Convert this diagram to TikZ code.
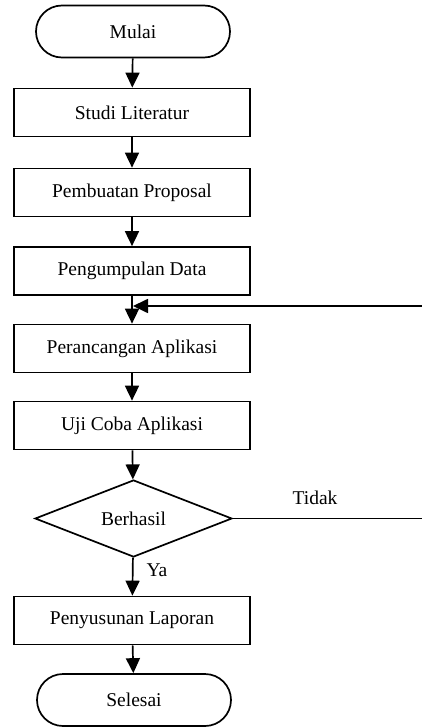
\documentclass[tikz,border=0pt]{standalone}
\usepackage{fontspec}
\setmainfont{Liberation Serif}
\usetikzlibrary{shapes.geometric,arrows.meta}
\begin{document}
\begin{tikzpicture}[x=1pt,y=-1pt,
  font=\fontsize{19.5}{23}\selectfont,
  lw/.style={line width=1.7pt},
  procbox/.style={lw,draw,rectangle,minimum width=236pt,minimum height=48pt,inner sep=0pt},
  termbox/.style={lw,draw,rectangle,rounded corners=26pt,minimum width=194pt,minimum height=52pt,inner sep=0pt},
  decbox/.style={lw,draw,diamond,aspect=2.56,minimum width=197pt,minimum height=77pt,inner sep=0pt},
  arr/.style={lw,-{Triangle[length=15pt,width=14pt]}},
  lbl/.style={inner sep=0pt}
]
\useasboundingbox (0,0) rectangle (422,727);
\node[termbox] (mulai) at (133,31.5) {Mulai};
\node[procbox] (studi) at (132,112.5) {Studi Literatur};
\node[procbox] (prop) at (132,192.5) {Pembuatan Proposal};
\node[procbox] (data) at (132,271) {Pengumpulan Data};
\node[procbox] (ranc) at (132,348.5) {Perancangan Aplikasi};
\node[procbox] (uji) at (132,425.5) {Uji Coba Aplikasi};
\node[decbox] (dec) at (133.5,518.5) {Berhasil};
\node[procbox] (lap) at (132,620.5) {Penyusunan Laporan};
\node[termbox] (sel) at (134,700) {Selesai};
\coordinate (fb) at (133,306);
\coordinate (r1) at (426,518.5);
\coordinate (r2) at (426,306);
\draw[arr] (mulai) -- (studi);
\draw[arr] (studi) -- (prop);
\draw[arr] (prop) -- (data);
\draw[arr] (data) -- (ranc);
\draw[arr] (ranc) -- (uji);
\draw[arr] (uji) -- (dec);
\draw[arr] (dec) -- (lap);
\draw[arr] (lap) -- (sel);
\draw[arr] (dec.east) -- (r1) -- (r2) -- (fb);
\node[lbl] (tidak) at (315,498) {Tidak};
\node[lbl] (ya) at (157,570) {Ya};
\end{tikzpicture}
\end{document}
